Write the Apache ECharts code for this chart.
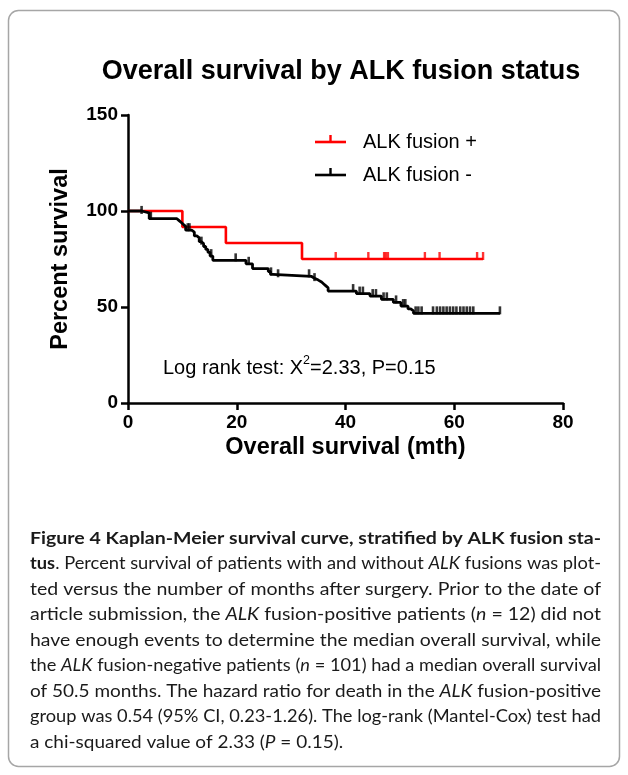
<!DOCTYPE html>
<html><head><meta charset="utf-8">
<script src="https://cdn.jsdelivr.net/npm/echarts@6/dist/echarts.min.js"></script>
<style>html,body{margin:0;padding:0;background:#fff}#c{width:628px;height:775px}</style>
</head><body><div id="c"></div>
<script>
// ---- data ----
const xTicks = [0, 20, 40, 60, 80];
const yTicks = [0, 50, 100, 150];

// ALK fusion + (n = 12)
const posTime = [0, 10, 18, 32, 65.3];
const posSurv = [100, 91.7, 83.3, 75, 75];
const posCensorTime = [38.2, 44.2, 47.1, 47.4, 47.8, 54.6, 57.3, 64.2, 65.3];
const posCensorSurv = [75, 75, 75, 75, 75, 75, 75, 75, 75];

// ALK fusion - (n = 101)
const negTime = [0, 2.5, 3.9, 9.0, 9.4, 9.8, 10.2, 10.6, 11.7, 12.2, 12.7, 13.1, 13.5, 13.9, 14.3, 14.7, 15.1, 15.6,
  21.7, 22.9, 25.8, 26.2, 26.6, 33.7, 34.3, 35.0, 35.6, 36.0, 36.4, 36.8,
  42.0, 44.5, 46.6, 48.8, 50.2, 51.5, 52.0, 52.5, 68.4];
const negSurv = [100, 99, 96, 95, 94, 93, 92, 90, 89, 87, 86, 84, 83, 81.5, 80, 78.5, 76.5, 74.3,
  72.5, 70, 68.5, 67, 66, 65, 64, 63, 62, 61, 60, 58.3,
  57, 55.7, 54, 52.4, 50.5, 49, 48, 46.7, 46.7];
const negCensorTime = [2.5, 4.2, 11.0, 11.3, 13.5, 15.3, 19.8, 22.2, 26.3, 27.6, 33.3, 34.3,
  41.4, 42.6, 43.2, 45.0, 45.6, 47.0, 47.6, 49.3, 50.6, 51.0,
  52.9, 53.4, 54.0, 56.1, 56.8, 57.4, 58.0, 58.6, 59.2, 59.8, 60.4, 61.1, 61.7, 62.3, 62.9, 63.5, 68.4];
const negCensorSurv = [99, 96, 90, 90, 83, 76.5, 74.3, 72.5, 67, 66, 66, 64,
  58.3, 57, 57, 55.7, 55.7, 54, 54, 52.4, 50.5, 50.5,
  46.7, 46.7, 46.7, 46.7, 46.7, 46.7, 46.7, 46.7, 46.7, 46.7, 46.7, 46.7, 46.7, 46.7, 46.7, 46.7, 46.7];

const seriesNames = ['ALK fusion +', 'ALK fusion -'];
const seriesColors = ['#ff0000', '#000000'];

// ---- caption text ----
const captionLines = [
  [['b', 'Figure 4 Kaplan-Meier survival curve, stratified by ALK fusion sta-']],
  [['b', 'tus'], ['r', '. Percent survival of patients with and without '], ['i', 'ALK'], ['r', ' fusions was plot-']],
  [['r', 'ted versus the number of months after surgery. Prior to the date of']],
  [['r', 'article submission, the '], ['i', 'ALK'], ['r', ' fusion-positive patients ('], ['i', 'n'], ['r', ' = 12) did not']],
  [['r', 'have enough events to determine the median overall survival, while']],
  [['r', 'the '], ['i', 'ALK'], ['r', ' fusion-negative patients ('], ['i', 'n'], ['r', ' = 101) had a median overall survival']],
  [['r', 'of 50.5 months. The hazard ratio for death in the '], ['i', 'ALK'], ['r', ' fusion-positive']],
  [['r', 'group was 0.54 (95% CI, 0.23-1.26). The log-rank (Mantel-Cox) test had']],
  [['r', 'a chi-squared value of 2.33 ('], ['i', 'P'], ['r', ' = 0.15).']]
];

const pair = (xs, ys) => xs.map((x, i) => [x, ys[i]]);
const F = 'Liberation Sans, Arial, sans-serif';

// caption measurement
const capFont = 'Lato';
const capSize = 17.5;
const capStyles = {
  r: { fontWeight: 'normal', fontStyle: 'normal' },
  b: { fontWeight: 'bold', fontStyle: 'normal' },
  i: { fontWeight: 'normal', fontStyle: 'italic' }
};
const mctx = document.createElement('canvas').getContext('2d');
function measure(segs) {
  let w = 0;
  for (const [k, t] of segs) {
    const s = capStyles[k];
    mctx.font = s.fontStyle + ' ' + s.fontWeight + ' ' + capSize + 'px ' + capFont;
    w += mctx.measureText(t).width;
  }
  return w;
}
const capLeft = 30, capRight = 601, capTop = 538, capStep = 25.5;
const widths = captionLines.map(measure);
const scales = widths.map(w => (capRight - capLeft) / w);
const avgScale = scales.slice(0, -1).reduce((a, b) => a + b, 0) / (scales.length - 1);
const rich = {};
for (const k in capStyles) {
  rich[k] = { fontFamily: capFont, fontSize: capSize, fontWeight: capStyles[k].fontWeight, fontStyle: capStyles[k].fontStyle, fill: '#1a1a1a' };
}
const captionGraphics = captionLines.map((segs, i) => ({
  type: 'text',
  x: capLeft, y: capTop + i * capStep,
  originX: 0, originY: 0,
  scaleX: i === captionLines.length - 1 ? avgScale : scales[i],
  style: {
    text: segs.map(([k, t]) => '{' + k + '|' + t + '}').join(''),
    rich: rich,
    verticalAlign: 'middle',
    align: 'left'
  }
}));

const chart = echarts.init(document.getElementById('c'), null, { renderer: 'canvas' });

const option = {
  animation: false,
  backgroundColor: '#fff',
  grid: { left: 128, top: 115, right: 65, bottom: 372, containLabel: false },
  xAxis: {
    type: 'value', min: xTicks[0], max: xTicks[xTicks.length - 1], interval: xTicks[1] - xTicks[0],
    name: 'Overall survival (mth)', nameLocation: 'middle', nameGap: 33,
    nameTextStyle: { fontFamily: F, fontWeight: 'bold', fontSize: 23.5, color: '#000' },
    axisLine: { lineStyle: { color: '#000', width: 2.5 } },
    axisTick: { length: 7, lineStyle: { color: '#000', width: 2.5 } },
    axisLabel: { margin: 10, fontFamily: F, fontWeight: 'bold', fontSize: 19, color: '#000' },
    splitLine: { show: false }
  },
  yAxis: {
    type: 'value', min: yTicks[0], max: yTicks[yTicks.length - 1], interval: yTicks[1] - yTicks[0],
    name: 'Percent survival', nameLocation: 'middle', nameGap: 55,
    nameTextStyle: { fontFamily: F, fontWeight: 'bold', fontSize: 23.5, color: '#000' },
    axisLine: { lineStyle: { color: '#000', width: 2.5 } },
    axisTick: { length: 7, lineStyle: { color: '#000', width: 2.5 } },
    axisLabel: { margin: 10, fontFamily: F, fontWeight: 'bold', fontSize: 19, color: '#000' },
    splitLine: { show: false }
  },
  series: [
    {
      name: seriesNames[0], type: 'line', step: 'end', data: pair(posTime, posSurv),
      showSymbol: false, symbol: 'none', z: 2,
      lineStyle: { color: seriesColors[0], width: 2.6 }
    },
    {
      name: seriesNames[0] + ' censored', type: 'scatter', data: pair(posCensorTime, posCensorSurv),
      symbol: 'rect', symbolSize: [2.4, 8], symbolOffset: [0, -3], z: 3,
      itemStyle: { color: seriesColors[0] }
    },
    {
      name: seriesNames[1], type: 'line', step: 'end', data: pair(negTime, negSurv),
      showSymbol: false, symbol: 'none', z: 4,
      lineStyle: { color: seriesColors[1], width: 2.8 }
    },
    {
      name: seriesNames[1] + ' censored', type: 'scatter', data: pair(negCensorTime, negCensorSurv),
      symbol: 'rect', symbolSize: [2.6, 8], symbolOffset: [0, -3], z: 5,
      itemStyle: { color: seriesColors[1] }
    }
  ],
  graphic: [
    { type: 'rect', shape: { x: 8.5, y: 10.5, width: 611, height: 756, r: 10 },
      style: { fill: 'none', stroke: '#a6a6a6', lineWidth: 1.5 }, z: 0 },
    { type: 'text', x: 341, y: 72, style: { text: 'Overall survival by ALK fusion status', fontFamily: F, fontWeight: 'bold', fontSize: 27, fill: '#000', align: 'center', verticalAlign: 'middle' } },
    // legend
    { type: 'line', shape: { x1: 315, y1: 142, x2: 346, y2: 142 }, style: { stroke: seriesColors[0], lineWidth: 2.6 } },
    { type: 'line', shape: { x1: 330.5, y1: 142, x2: 330.5, y2: 135 }, style: { stroke: seriesColors[0], lineWidth: 2.4 } },
    { type: 'text', x: 363, y: 142, style: { text: seriesNames[0], fontFamily: F, fontSize: 20, fill: '#000', verticalAlign: 'middle' } },
    { type: 'line', shape: { x1: 315, y1: 175, x2: 346, y2: 175 }, style: { stroke: seriesColors[1], lineWidth: 2.6 } },
    { type: 'line', shape: { x1: 330.5, y1: 175, x2: 330.5, y2: 168 }, style: { stroke: seriesColors[1], lineWidth: 2.4 } },
    { type: 'text', x: 363, y: 175, style: { text: seriesNames[1], fontFamily: F, fontSize: 20, fill: '#000', verticalAlign: 'middle' } },
    // annotation
    { type: 'text', x: 163, y: 366, style: {
        text: '{a|Log rank test: X}{s|2}{a|=2.33, P=0.15}',
        verticalAlign: 'middle',
        rich: {
          a: { fontFamily: F, fontSize: 20, fill: '#000', lineHeight: 24, verticalAlign: 'bottom' },
          s: { fontFamily: F, fontSize: 12.5, fill: '#000', lineHeight: 24, verticalAlign: 'top' }
        }
      } }
  ].concat(captionGraphics)
};
chart.setOption(option);
</script>
</body></html>
